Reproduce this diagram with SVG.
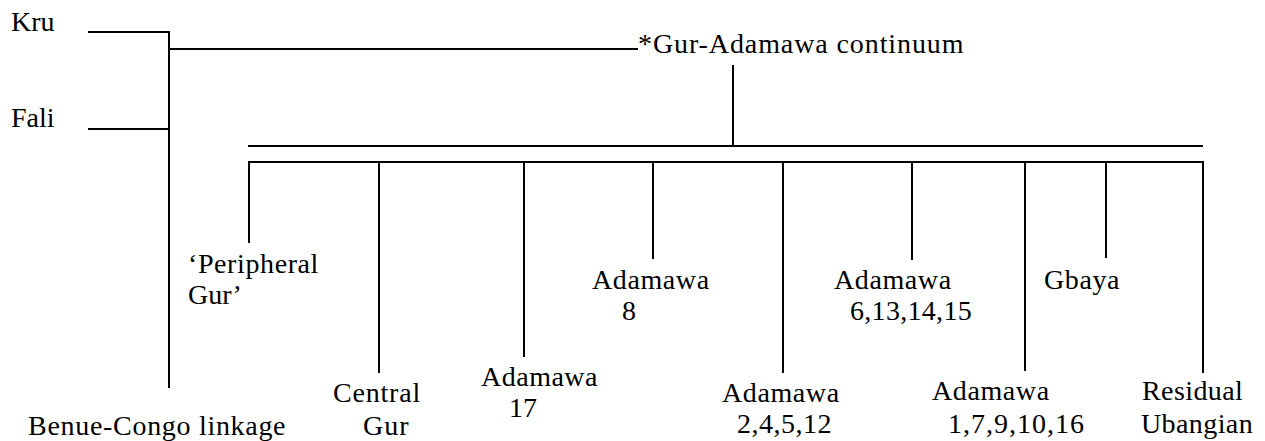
<svg xmlns="http://www.w3.org/2000/svg" width="1265" height="441" viewBox="0 0 1265 441">
<rect width="1265" height="441" fill="#fff"/>
<g id="connectors" stroke="#000" stroke-width="2" fill="none">
<path d="M88 32H169V388"/>
<path d="M88 129H169"/>
<path d="M169 49H638"/>
<path d="M733 65V146"/>
<path d="M248 146H1203"/>
<path d="M249 243V162H1203V373"/>
<path d="M379 162V373"/>
<path d="M524 162V357"/>
<path d="M653 162V259"/>
<path d="M783 162V373"/>
<path d="M912 162V260"/>
<path d="M1025 162V371"/>
<path d="M1106 162V258"/>
</g>
<g font-size="28" fill="#000">
<g id="kru"><text font-family="Liberation Serif" x="11" y="31">Kru</text></g>
<g id="fali"><text font-family="Liberation Serif" x="11" y="127">Fali</text></g>
<g id="benue-congo"><text font-family="Liberation Serif" letter-spacing="0.7" x="28" y="435">Benue-Congo linkage</text></g>
<g id="gur-adamawa"><text font-family="Liberation Serif" letter-spacing="0.9" x="638" y="53">*Gur-Adamawa continuum</text></g>
<g id="peripheral-gur"><text font-family="Liberation Serif" letter-spacing="0.6" x="188" y="273">&#8216;Peripheral</text><text font-family="Liberation Serif" x="188" y="304">Gur&#8217;</text></g>
<g id="central-gur"><text font-family="Liberation Serif" letter-spacing="0.8" x="333" y="402">Central</text><text font-family="Liberation Serif" letter-spacing="1" x="363" y="435">Gur</text></g>
<g id="adamawa-17"><text font-family="Liberation Serif" letter-spacing="0.5" x="481" y="386">Adamawa</text><text font-family="Liberation Serif" x="509" y="417">17</text></g>
<g id="adamawa-8"><text font-family="Liberation Serif" letter-spacing="0.6" x="592" y="289">Adamawa</text><text font-family="Liberation Serif" x="622" y="320">8</text></g>
<g id="adamawa-2-4-5-12"><text font-family="Liberation Serif" letter-spacing="0.6" x="722" y="402">Adamawa</text><text font-family="Liberation Serif" letter-spacing="0.5" x="737" y="433">2,4,5,12</text></g>
<g id="adamawa-6-13-14-15"><text font-family="Liberation Serif" letter-spacing="0.6" x="834" y="289">Adamawa</text><text font-family="Liberation Serif" letter-spacing="0.3" x="850" y="320">6,13,14,15</text></g>
<g id="adamawa-1-7-9-10-16"><text font-family="Liberation Serif" letter-spacing="0.6" x="932" y="400">Adamawa</text><text font-family="Liberation Serif" letter-spacing="1" x="948" y="433">1,7,9,10,16</text></g>
<g id="gbaya"><text font-family="Liberation Serif" letter-spacing="0.6" x="1044" y="289">Gbaya</text></g>
<g id="residual-ubangian"><text font-family="Liberation Serif" letter-spacing="0.4" x="1142" y="400">Residual</text><text font-family="Liberation Serif" letter-spacing="0.4" x="1141" y="433">Ubangian</text></g>
</g>
</svg>
